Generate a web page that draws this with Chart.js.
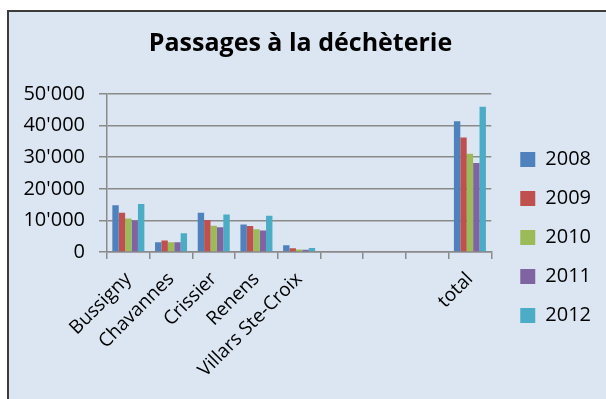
<!DOCTYPE html>
<html lang="fr">
<head>
    <meta charset="utf-8">
    <title>Passages à la déchèterie</title>
    <script src="https://cdn.jsdelivr.net/npm/chart.js"></script>
    <style>
        body { margin: 0; background: #ffffff; }
        .frame {
            position: absolute; left: 7px; top: 10px; right: 0; bottom: 0;
            background: #dce6f2;
            border-left: 2px solid #3c3c3c;
            border-top: 2px solid #3c3c3c;
        }
        #chartWrap { position: absolute; left: 0; top: 0; width: 606px; height: 399px; }
    </style>
</head>
<body>
    <div class="frame"></div>
    <div id="chartWrap"><canvas id="dechetChart" width="606" height="399"></canvas></div>
    <script>
        // Communes, with three empty slots before the total column
        const communes = ['Bussigny', 'Chavannes', 'Crissier', 'Renens', 'Villars Ste-Croix', '', '', '', 'total'];
        const years = ['2008', '2009', '2010', '2011', '2012'];

        // Passages per year, one value per commune
        const passages2008 = [14800, 3100, 12400, 8700, 2100, null, null, null, 41400];
        const passages2009 = [12400, 3600, 10100, 8200, 1200, null, null, null, 36200];
        const passages2010 = [10600, 3100, 8300, 7200, 800, null, null, null, 31100];
        const passages2011 = [10000, 3100, 7800, 6800, 700, null, null, null, 28200];
        const passages2012 = [15200, 5900, 11900, 11500, 1300, null, null, null, 46000];

        const yTicks = [0, 10000, 20000, 30000, 40000, 50000];

        const colours = ['#4f81bd', '#c0504d', '#9bbb59', '#8064a2', '#4bacc6'];
        const series = [passages2008, passages2009, passages2010, passages2011, passages2012];

        const fontFamily = '"Open Sans", "DejaVu Sans", sans-serif';
        const gridColour = '#8a8a8a';

        // thousands with an apostrophe: 50'000
        function swissNumber(v) {
            return String(v).replace(/\B(?=(\d{3})+(?!\d))/g, "'");
        }

        const ctx = document.getElementById('dechetChart').getContext('2d');
        new Chart(ctx, {
            type: 'bar',
            data: {
                labels: communes,
                datasets: years.map((y, i) => ({
                    label: y,
                    data: series[i],
                    backgroundColor: colours[i],
                    borderWidth: 0,
                    categoryPercentage: 0.75,
                    barPercentage: 1.0
                }))
            },
            options: {
                responsive: false,
                animation: false,
                devicePixelRatio: 1,
                layout: { padding: { left: 0, right: 5, top: 0, bottom: 0 } },
                plugins: {
                    title: {
                        display: true,
                        text: 'Passages à la déchèterie',
                        color: '#000000',
                        font: { family: fontFamily, size: 25, weight: 'bold' },
                        padding: { top: 29, bottom: 35 }
                    },
                    legend: {
                        position: 'right',
                        // blank title pushes the entries lower in the column
                        title: {
                            display: true,
                            text: ' ',
                            font: { family: fontFamily, size: 20 },
                            padding: 26
                        },
                        labels: {
                            color: '#000000',
                            font: { family: fontFamily, size: 20 },
                            boxWidth: 15,
                            boxHeight: 15,
                            padding: 19
                        }
                    },
                    tooltip: { enabled: false }
                },
                scales: {
                    x: {
                        grid: {
                            offset: true,
                            drawOnChartArea: false,
                            drawTicks: true,
                            tickLength: 7,
                            color: gridColour,
                            lineWidth: 1.5
                        },
                        border: { color: gridColour, width: 1.5 },
                        ticks: {
                            autoSkip: false,
                            minRotation: 45,
                            maxRotation: 45,
                            padding: 9,
                            color: '#000000',
                            font: { family: fontFamily, size: 19 }
                        },
                        afterFit: s => { s.height = 399 - 252; }
                    },
                    y: {
                        min: 0,
                        max: 50000,
                        afterBuildTicks: s => { s.ticks = yTicks.map(v => ({ value: v })); },
                        grid: {
                            color: gridColour,
                            lineWidth: 1.5,
                            tickLength: 8
                        },
                        border: { color: gridColour, width: 1.5 },
                        ticks: {
                            padding: 14,
                            color: '#000000',
                            font: { family: fontFamily, size: 20 },
                            callback: v => swissNumber(v)
                        },
                        afterFit: s => { s.width = 107; }
                    },
                    // empty axis that keeps a gap between the plot and the legend
                    gap: {
                        position: 'right',
                        display: true,
                        grid: { display: false },
                        border: { display: false },
                        ticks: { display: false },
                        afterFit: s => { s.width = 10; }
                    }
                }
            }
        });
    </script>
</body>
</html>
